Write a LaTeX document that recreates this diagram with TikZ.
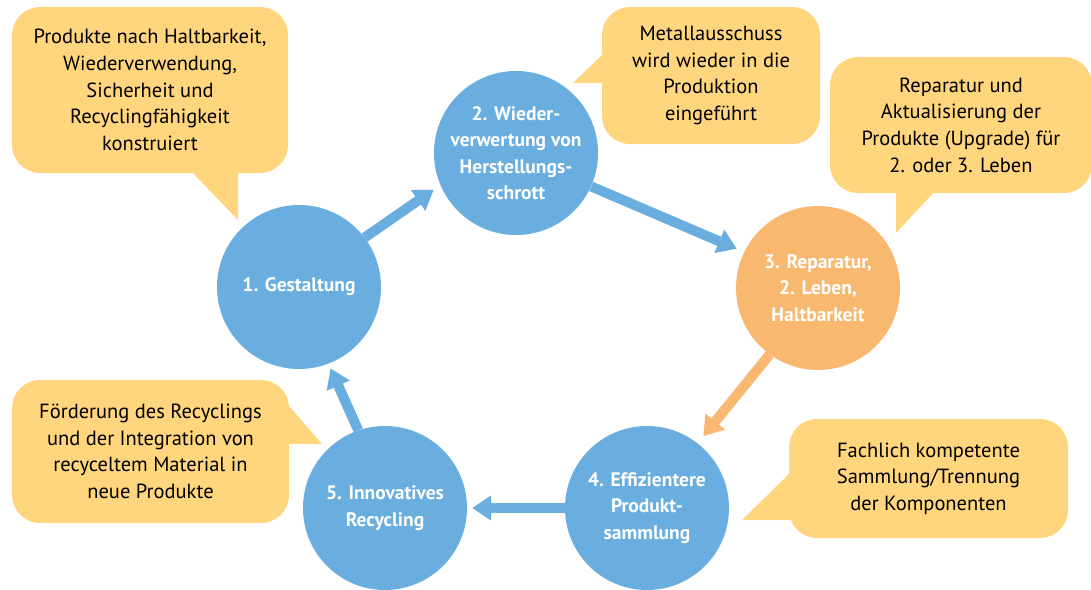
\documentclass[tikz,border=0pt]{standalone}
\usepackage{fontspec}
\setmainfont{PT Sans}
\usetikzlibrary{arrows.meta}
\definecolor{cblue}{HTML}{69AEDF}
\definecolor{corange}{HTML}{F8B870}
\definecolor{cyellow}{HTML}{FFD67E}
\tikzset{
  stage/.style={circle, fill=cblue, minimum size=164pt, inner sep=0pt, text=white,
    font=\fontsize{19.5}{26.5}\selectfont\bfseries, align=center},
  callout/.style={rounded corners=28pt, fill=cyellow, inner sep=0pt, text=black,
    font=\fontsize{20.5}{26.7}\selectfont, align=center},
  ptr/.style={fill=cyellow},
  flow/.style={draw=cblue, line width=10pt, -{Triangle[length=19pt,width=24pt]}},
}
\begin{document}
\begin{tikzpicture}[x=1pt,y=-1pt]
\useasboundingbox (0,0) rectangle (1091,589);
% callouts
\node[callout, minimum width=276pt, minimum height=166pt] (ca) at (150,90)
  {Produkte nach Haltbarkeit,\\Wiederverwendung,\\Sicherheit und\\Recyclingfähigkeit\\konstruiert};
\fill[ptr] (190,170) -- (238,170) -- (238,220) -- cycle;
\node[callout, minimum width=218pt, minimum height=137pt] (cb) at (711,75.5)
  {Metallausschuss\\wird wieder in die\\Produktion\\eingeführt};
\fill[ptr] (604,53) -- (573,83) -- (604,83) -- cycle;
\node[callout, minimum width=262pt, minimum height=136pt] (cc) at (961,125)
  {Reparatur und\\Aktualisierung der\\Produkte (Upgrade) für\\2. oder 3. Leben};
\fill[ptr] (896,190) -- (936,190) -- (896,233) -- cycle;
\node[callout, minimum width=277pt, minimum height=143pt] (cd) at (150.5,451.5)
  {Förderung des Recyclings\\und der Integration von\\recyceltem Material in\\neue Produkte};
\fill[ptr] (282,398) -- (322,444) -- (286,444) -- cycle;
\node[callout, minimum width=279pt, minimum height=119pt] (ce) at (928.5,478.5)
  {Fachlich kompetente\\Sammlung/Trennung\\der Komponenten};
\fill[ptr] (791,472) -- (742,520) -- (791,520) -- cycle;
% stages
\node[stage] (s1) at (299,287) {1. Gestaltung};
\node[stage] (s2) at (516,153) {2. Wieder-\\verwertung von\\Herstellungs-\\schrott};
\node[stage, fill=corange] (s3) at (818,288) {3. Reparatur,\\2. Leben,\\Haltbarkeit};
\node[stage] (s4) at (647,508) {4. Effizientere\\Produkt-\\sammlung};
\node[stage] (s5) at (385,508) {5. Innovatives\\Recycling};
% arrows
\draw[flow, shorten >=8pt] (s1.37) -- (s2.203);
\draw[flow, shorten >=8pt] (s2.-24) -- (s3.154);
\draw[flow, draw=corange, shorten >=9pt] (s3.234) -- (s4.52);
\draw[flow, shorten >=5pt] (s4.180) -- (s5.0);
\draw[flow, shorten >=5pt] (s5.109) -- (s1.-69);
\end{tikzpicture}
\end{document}
